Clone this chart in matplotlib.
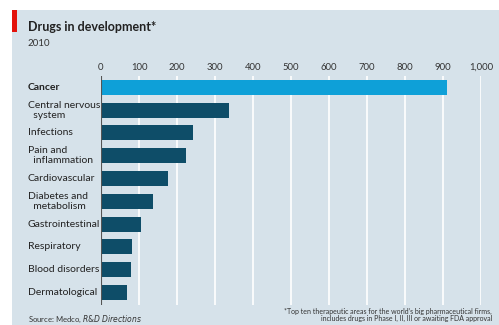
import matplotlib.pyplot as plt
from matplotlib.patches import Rectangle
from matplotlib.transforms import blended_transform_factory

categories = ['Cancer', 'Central nervous\n  system', 'Infections', 'Pain and\n  inflammation',
              'Cardiovascular', 'Diabetes and\n  metabolism', 'Gastrointestinal',
              'Respiratory', 'Blood disorders', 'Dermatological']
values = [910, 336, 242, 223, 177, 138, 105, 82, 80, 68]
ticks = [0, 100, 200, 300, 400, 500, 600, 700, 800, 900, 1000]
tick_labels = ['0', '100', '200', '300', '400', '500', '600', '700', '800', '900', '1,000']

bg = '#d6e2ea'
plt.rcParams['font.family'] = ['Lato', 'DejaVu Sans']

fig = plt.figure(figsize=(4.99, 3.25), dpi=100)
fig.patch.set_facecolor('white')
fig.patches.append(Rectangle((12 / 499, 0), 1, 1 - 10 / 325, transform=fig.transFigure,
                             facecolor=bg, edgecolor='none', zorder=-2))
fig.patches.append(Rectangle((12 / 499, 1 - 32 / 325), 5 / 499, 22 / 325, transform=fig.transFigure,
                             facecolor='#e3120b', edgecolor='none', zorder=-1))

ax = fig.add_axes([101 / 499, 1 - 305 / 325, 380 / 499, 229 / 325])
ax.set_zorder(5)
ax.patch.set_alpha(0)

y = list(range(len(categories)))
colors = ['#0ea0d8'] + ['#0e4d68'] * (len(categories) - 1)
ax.barh(y, values, height=0.66, color=colors, zorder=2)
ax.set_xlim(0, 1000)
ax.set_ylim(len(categories) - 0.45, -0.5)
ax.set_xticks(ticks)
ax.set_xticklabels(tick_labels)
ax.xaxis.tick_top()
ax.tick_params(axis='x', length=0, labelsize=6.8, labelcolor='#333333', pad=3)
ax.set_yticks([])
ax.grid(axis='x', color='white', linewidth=1.2, zorder=1)
for s in ax.spines.values():
    s.set_visible(False)
ax.axvline(0, color='#555555', linewidth=0.8, zorder=3)

tr = blended_transform_factory(fig.transFigure, ax.transData)
for i, c in enumerate(categories):
    ax.text(28 / 499, i, c, transform=tr, ha='left', va='center', fontsize=7.5,
            color='#222222', fontweight='bold' if i == 0 else 'normal', linespacing=1.15)

fig.text(28 / 499, 1 - 27 / 325, 'Drugs in development*', fontsize=9, fontweight='bold',
         color='#222222', va='center')
fig.text(28 / 499, 1 - 44 / 325, '2010', fontsize=7, color='#333333', va='center')
fig.text(28 / 499, 1 - 319 / 325, 'Source: Medco, $\\it{R&D\\ Directions}$', fontsize=5.5,
         color='#333333', va='center')
fig.text(492 / 499, 1 - 315 / 325,
         '*Top ten therapeutic areas for the world\u2019s big pharmaceutical firms,\n'
         'includes drugs in Phase I, II, III or awaiting FDA approval',
         fontsize=5, color='#333333', ha='right', va='center', linespacing=1.1)

fig.savefig('out.png', dpi=100)
